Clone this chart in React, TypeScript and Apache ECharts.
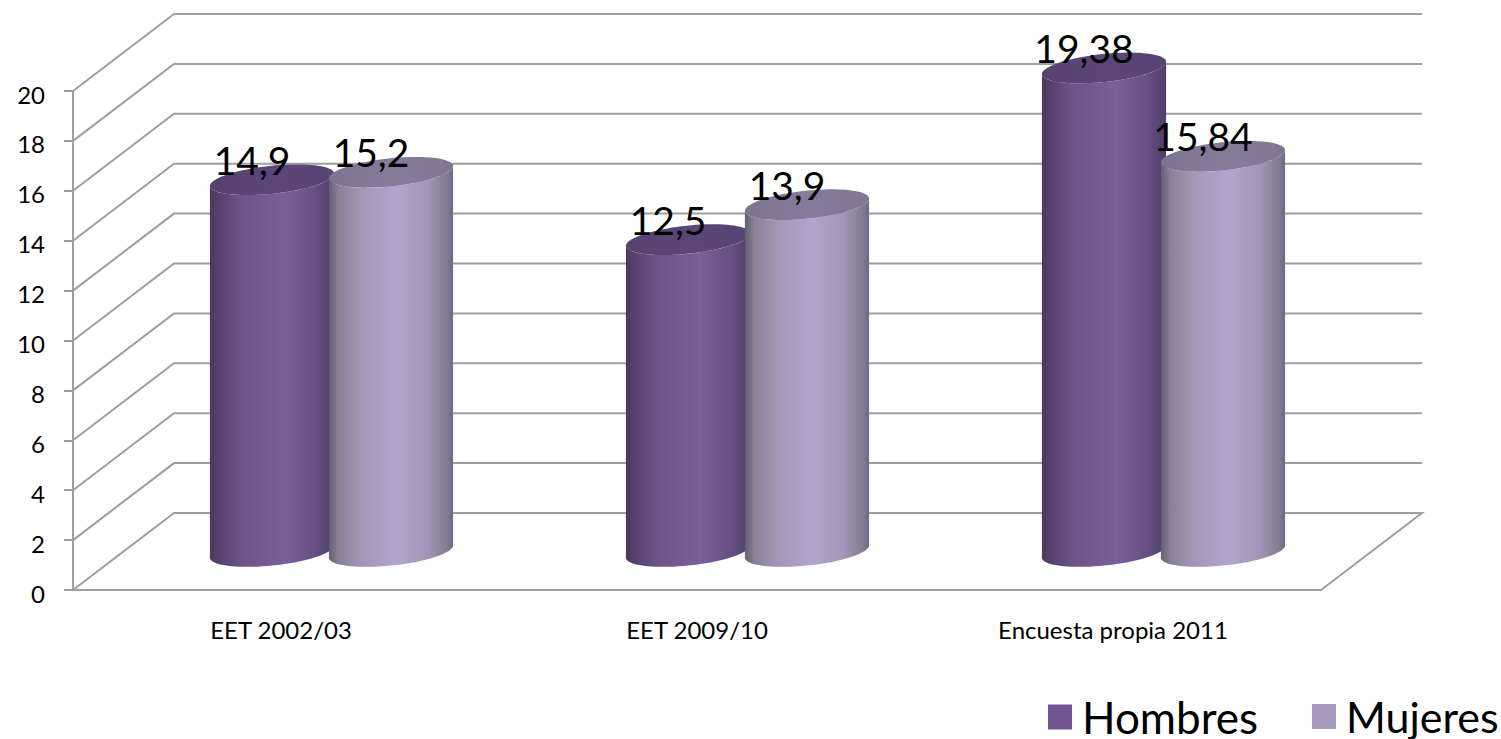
import React, { useEffect, useRef } from "react";
import * as echarts from "echarts";

const categories = ["EET 2002/03", "EET 2009/10", "Encuesta propia 2011"];
const hombres = [14.9, 12.5, 19.38];
const mujeres = [15.2, 13.9, 15.84];
const wallTicks = [0, 2, 4, 6, 8, 10, 12, 14, 16, 18, 20];

const DEPTH_X = 101;
const DEPTH_Y = 77;
const LINE = "#9e9e9e";

const hGrad = () =>
  new echarts.graphic.LinearGradient(0, 0, 1, 0, [
    { offset: 0, color: "#47395f" },
    { offset: 0.08, color: "#574370" },
    { offset: 0.25, color: "#6d5389" },
    { offset: 0.6, color: "#7a5f9a" },
    { offset: 0.85, color: "#674e84" },
    { offset: 1, color: "#4e3e69" },
  ]);
const mGrad = () =>
  new echarts.graphic.LinearGradient(0, 0, 1, 0, [
    { offset: 0, color: "#62606f" },
    { offset: 0.08, color: "#8c8299" },
    { offset: 0.28, color: "#a597b9" },
    { offset: 0.55, color: "#b2a5cb" },
    { offset: 0.8, color: "#a295b5" },
    { offset: 0.95, color: "#827a92" },
    { offset: 1, color: "#6e6a80" },
  ]);
const hTop = () =>
  new echarts.graphic.LinearGradient(0, 0, 1, 0, [
    { offset: 0, color: "#57426f" },
    { offset: 0.5, color: "#5c4679" },
    { offset: 1, color: "#584572" },
  ]);
const mTop = () =>
  new echarts.graphic.LinearGradient(0, 0, 1, 0, [
    { offset: 0, color: "#7f7392" },
    { offset: 0.5, color: "#877b9c" },
    { offset: 1, color: "#817692" },
  ]);

function cylinderRenderer(offset: number, body: () => any, top: () => any) {
  return (_params: any, api: any) => {
    const cat = api.value(0);
    const val = api.value(1);
    const band = api.size([1, 0])[0];
    const topPt = api.coord([cat, val]);
    const basePt = api.coord([cat, 0]);
    const cx = topPt[0] + DEPTH_X / 2 + offset * band;
    const ty = topPt[1] - DEPTH_Y / 2;
    const by = basePt[1] - DEPTH_Y / 2;
    const a = band * 0.15;
    const b = 14;
    const th = (-6 * Math.PI) / 180;
    const pt = (y0: number, t: number) => [
      cx + a * Math.cos(t) * Math.cos(th) - b * Math.sin(t) * Math.sin(th),
      y0 + a * Math.cos(t) * Math.sin(th) + b * Math.sin(t) * Math.cos(th),
    ];
    const tR = Math.atan2(-b * Math.sin(th), a * Math.cos(th));
    const N = 40;
    const bodyPts: number[][] = [];
    for (let i = 0; i <= N; i++) bodyPts.push(pt(ty, tR + (Math.PI * i) / N));
    for (let i = N; i >= 0; i--) bodyPts.push(pt(by, tR + (Math.PI * i) / N));
    const topPts: number[][] = [];
    for (let i = 0; i < 2 * N; i++) topPts.push(pt(ty, (Math.PI * i) / N));
    return {
      type: "group",
      children: [
        { type: "polygon", shape: { points: bodyPts }, style: { fill: body() } },
        { type: "polygon", shape: { points: topPts }, style: { fill: top() } },
        {
          type: "text",
          z2: 100,
          x: cx - 20,
          y: ty - 20,
          style: {
            text: String(val).replace(".", ","),
            fill: "#000",
            font: '39px Lato, sans-serif',
            align: "center",
            verticalAlign: "middle",
          },
        },
      ],
    };
  };
}

function wallRenderer(params: any, api: any) {
  const v = api.value(1);
  const y = api.coord([0, v])[1];
  const x0 = params.coordSys.x;
  const x1 = x0 + params.coordSys.width;
  const pts: number[][] = [
    [x0, y],
    [x0 + DEPTH_X, y - DEPTH_Y],
    [x1 + DEPTH_X, y - DEPTH_Y],
  ];
  if (v === 0) pts.push([x1, y]);
  return {
    type: "polyline",
    shape: { points: pts },
    style: { stroke: LINE, lineWidth: 2, fill: "none" },
  };
}

export default function App() {
  const ref = useRef<HTMLDivElement>(null);
  useEffect(() => {
    const chart = echarts.init(ref.current!, undefined, { renderer: "svg" });
    const axisFont = { color: "#000", fontFamily: "Lato, sans-serif", fontSize: 24 };
    const legendBase = {
      padding: 0,
      icon: "rect",
      itemWidth: 24,
      itemHeight: 25,
      selectedMode: false,
    };
    const legendText = (fontSize: number) => ({
      color: "#000",
      fontFamily: "Lato, sans-serif",
      fontSize,
      padding: [0, 0, 0, 5],
    });
    chart.setOption({
      animation: false,
      backgroundColor: "#fff",
      grid: { left: 73, right: 180, top: 91, bottom: 149, containLabel: false },
      legend: [
        { ...legendBase, left: 1048, top: 695, data: ["Hombres"], textStyle: legendText(44) },
        { ...legendBase, left: 1312, top: 695, data: ["Mujeres"], textStyle: legendText(43) },
      ],
      xAxis: {
        type: "category",
        data: categories,
        axisLine: { lineStyle: { color: LINE, width: 2 } },
        axisTick: { length: 9, alignWithLabel: false, interval: 0, lineStyle: { color: LINE, width: 2 } },
        axisLabel: { ...axisFont, margin: 27, interval: 0 },
        splitLine: { show: false },
      },
      yAxis: {
        type: "value",
        min: 0,
        max: 20,
        interval: 2,
        axisLine: { show: true, lineStyle: { color: LINE, width: 2 } },
        axisTick: { show: true, length: 9, lineStyle: { color: LINE, width: 2 } },
        axisLabel: { ...axisFont, margin: 28, verticalAlign: "top", lineHeight: 24, padding: [-9, 0, 0, 0] },
        splitLine: { show: false },
      },
      series: [
        {
          type: "custom",
          name: "Pared",
          silent: true,
          clip: false,
          z: 1,
          data: wallTicks.map((t) => [0, t]),
          encode: { x: 0, y: 1 },
          renderItem: wallRenderer,
        },
        {
          type: "custom",
          name: "Hombres",
          clip: false,
          z: 3,
          itemStyle: { color: "#715592" },
          data: hombres.map((v, i) => [i, v]),
          encode: { x: 0, y: 1 },
          renderItem: cylinderRenderer(-0.143, hGrad, hTop),
        },
        {
          type: "custom",
          name: "Mujeres",
          clip: false,
          z: 4,
          itemStyle: { color: "#a898bd" },
          data: mujeres.map((v, i) => [i, v]),
          encode: { x: 0, y: 1 },
          renderItem: cylinderRenderer(0.143, mGrad, mTop),
        },
      ],
    });
    return () => chart.dispose();
  }, []);
  return (
    <div
      ref={ref}
      style={{ position: "absolute", left: 0, top: 0, width: 1501, height: 739, background: "#fff" }}
    />
  );
}
